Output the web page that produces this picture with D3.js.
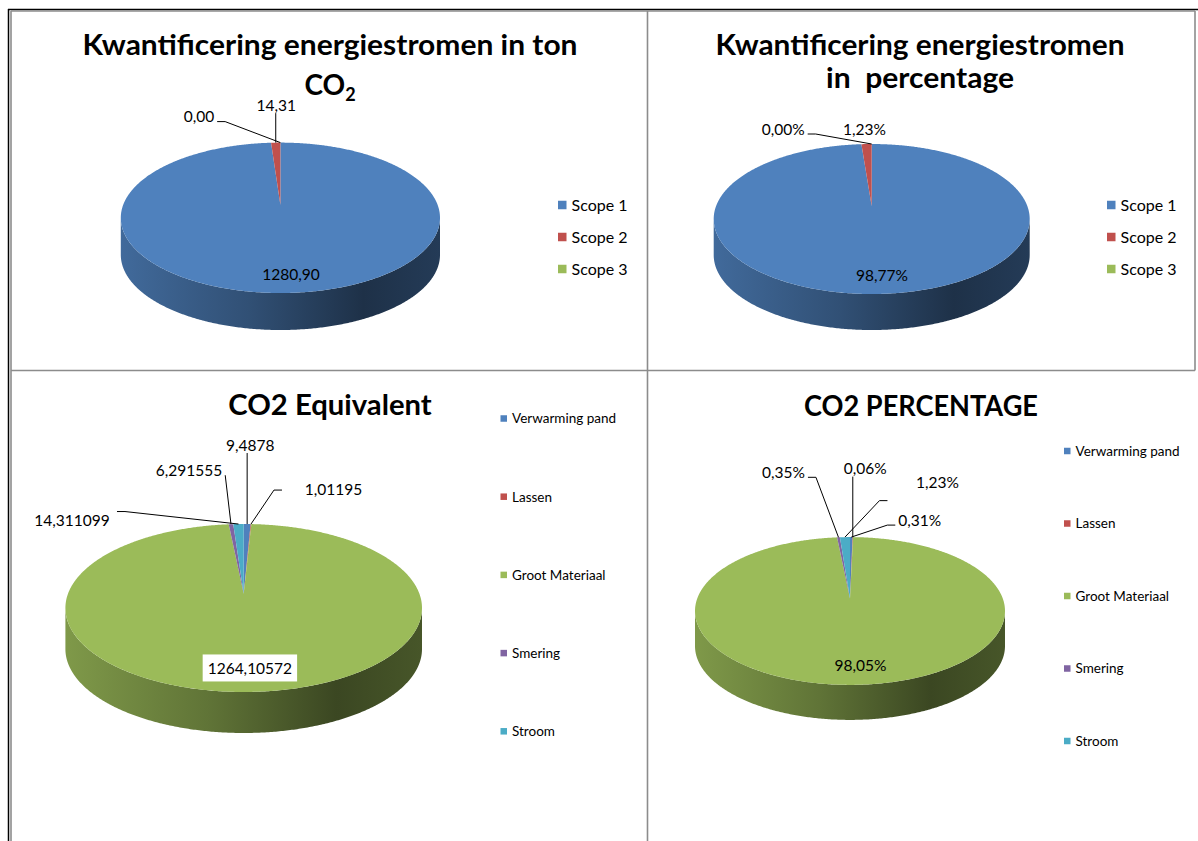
<!DOCTYPE html>
<html>
<head>
<meta charset="utf-8">
<script src="https://cdn.jsdelivr.net/npm/d3@7"></script>
<style>
  html, body { margin: 0; padding: 0; background: #fff; }
  svg { display: block; font-family: Lato, "Open Sans", sans-serif; }
  text { white-space: pre; }
</style>
</head>
<body>
<svg id="chart" width="1198" height="841"></svg>
<script>
// Data
const scopeNames = ["Scope 1", "Scope 2", "Scope 3"];
const scopeTon = [1280.90, 14.31, 0.00];
const scopePct = [98.77, 1.23, 0.00];
const scopeColors = ["#4F81BD", "#C0504D", "#9BBB59"];

const bronNames = ["Verwarming pand", "Lassen", "Groot Materiaal", "Smering", "Stroom"];
const bronCo2 = [9.4878, 1.01195, 1264.10572, 6.291555, 14.311099];
const bronPct = [0.31, 0.06, 98.05, 0.35, 1.23];
const bronColors = ["#4F81BD", "#C0504D", "#9BBB59", "#8064A2", "#4BACC6"];

const komma = s => s.replace(".", ",");
const fmt2 = v => komma(v.toFixed(2));
const fmtPct = v => komma(v.toFixed(2)) + "%";
const fmtRaw = v => komma(String(v));

// layout of the four charts
const charts = [
  {
    titles: [{text: "Kwantificering energiestromen in ton", x: 330, y: 55, w: 495},
             {text: "CO", sub: "2", x: 330, y: 95}],
    names: scopeNames, values: scopeTon, colors: scopeColors, fmt: fmt2,
    pie: {cx: 280.4, cy: 217.8, rx: 159.6, ry: 75.2, depth: 37},
    legend: {x: 558, y: 205, step: 32, box: 8.5, size: 16},
    labels: [{dx: 4, dy: -19, inside: true}, {dx: 0.5, dy: -37.5}, {dx: -81.5, dy: -26}]
  },
  {
    titles: [{text: "Kwantificering energiestromen", x: 920, y: 55, w: 409},
             {text: "in  percentage", x: 920, y: 88, w: 188}],
    names: scopeNames, values: scopePct, colors: scopeColors, fmt: fmtPct,
    pie: {cx: 871.7, cy: 219, rx: 158, ry: 75, depth: 36},
    legend: {x: 1107, y: 205, step: 32, box: 8.5, size: 16},
    labels: [{dx: 3, dy: -19, inside: true}, {dx: -2, dy: -15, noLine: true}, {dx: -88.5, dy: -15}]
  },
  {
    titles: [{text: "CO2 Equivalent", x: 330, y: 415, w: 203.5}],
    names: bronNames, values: bronCo2, colors: bronColors, fmt: fmtRaw,
    pie: {cx: 243.7, cy: 608, rx: 178.3, ry: 84, depth: 41},
    legend: {x: 500.5, y: 418.5, step: 78.2, box: 6.5, size: 13.5},
    labels: [{dx: 3, dy: -79}, {dx: 82.5, dy: -35, sx: -51.5, sy: 1},
             {dx: 1, dy: -24, inside: true, boxed: true},
             {dx: -42, dy: -54}, {dx: -166.5, dy: -3.5, sx: 45, sy: -9}]
  },
  {
    titles: [{text: "CO2 PERCENTAGE", x: 921, y: 415.5, w: 234}],
    names: bronNames, values: bronPct, colors: bronColors, fmt: fmtPct,
    pie: {cx: 850, cy: 611, rx: 155, ry: 73.9, depth: 35},
    legend: {x: 1064, y: 451, step: 72.5, box: 6.5, size: 13.5},
    labels: [{dx: 68.5, dy: -17}, {dx: 12.5, dy: -68.5}, {dx: 3.5, dy: -19, inside: true},
             {dx: -55, dy: -65}, {dx: 92.5, dy: -54.5, sx: -50, sy: 18}]
  }
];

const svg = d3.select("#chart");
const defs = svg.append("defs");

// sheet borders
svg.append("line").attr("x1", 8).attr("x2", 1198).attr("y1", 9.5).attr("y2", 9.5)
   .attr("stroke", "#000").attr("stroke-width", 1.5);
svg.append("line").attr("x1", 8.5).attr("x2", 8.5).attr("y1", 9).attr("y2", 841)
   .attr("stroke", "#000").attr("stroke-width", 1.5);
const grid = [[11, 11, 11, 841], [11, 11, 1195, 11], [647.5, 11, 647.5, 841],
              [11, 370.5, 1195, 370.5], [1195, 11, 1195, 370.5]];
grid.forEach(g => svg.append("line")
  .attr("x1", g[0]).attr("y1", g[1]).attr("x2", g[2]).attr("y2", g[3])
  .attr("stroke", "#8c8c8c").attr("stroke-width", 1.6));

const P = 0.17; // perspective of the 3D pie

charts.forEach((c, ci) => {
  const g = svg.append("g");
  const pc = c.pie;
  const R = pc.rx * Math.sqrt(1 - P * P);
  const S = pc.ry * (1 - P * P);
  const Y0 = pc.cy - P * pc.ry;
  const proj = (t, r = 1, dz = 0) => {
    const u = r * Math.sin(t), v = r * Math.cos(t), w = 1 + P * v;
    return [pc.cx + R * u / w, Y0 - S * v / w + dz];
  };
  const arcPts = (a0, a1, dz = 0) => {
    const n = Math.max(2, Math.ceil((a1 - a0) / (Math.PI / 360)));
    return d3.range(n + 1).map(i => proj(a0 + (a1 - a0) * i / n, 1, dz));
  };
  const color = d3.scaleOrdinal().domain(c.names).range(c.colors);
  const arcs = d3.pie().sort(null).value(d => d.v)
    .startAngle(0).endAngle(2 * Math.PI)(c.values.map((v, i) => ({v, name: c.names[i]})));
  const line = d3.line();

  // side of the cylinder, only the front part shows
  const front0 = Math.acos(-P), front1 = 2 * Math.PI - Math.acos(-P);
  arcs.forEach((a, i) => {
    const a0 = Math.max(a.startAngle, front0), a1 = Math.min(a.endAngle, front1);
    if (a1 <= a0) return;
    const base = d3.rgb(color(a.data.name));
    const id = "side" + ci + "_" + i;
    const grad = defs.append("linearGradient").attr("id", id)
      .attr("gradientUnits", "userSpaceOnUse")
      .attr("x1", pc.cx - pc.rx).attr("x2", pc.cx + pc.rx).attr("y1", 0).attr("y2", 0);
    [[0, 0.82], [0.4, 0.62], [0.76, 0.38], [1, 0.46]].forEach(s => {
      grad.append("stop").attr("offset", s[0])
        .attr("stop-color", d3.rgb(base.r * s[1], base.g * s[1], base.b * s[1]));
    });
    const pts = arcPts(a0, a1).concat(arcPts(a0, a1, pc.depth).reverse());
    g.append("path").attr("d", line(pts) + "Z").attr("fill", `url(#${id})`);
  });

  // top faces
  arcs.forEach(a => {
    if (a.endAngle - a.startAngle <= 0) return;
    const pts = [proj(0, 0)].concat(arcPts(a.startAngle, a.endAngle));
    g.append("path").attr("d", line(pts) + "Z").attr("fill", color(a.data.name));
  });

  // data labels with leader lines
  arcs.forEach((a, i) => {
    const L = c.labels[i];
    const mid = (a.startAngle + a.endAngle) / 2;
    const anc = proj(mid, 1);
    const lx = anc[0] + L.dx, ly = anc[1] + L.dy;
    const t = g.append("text").attr("x", lx).attr("y", ly).attr("dy", "0.36em")
      .attr("text-anchor", "middle").attr("font-size", 15.5).attr("fill", "#000")
      .text(c.fmt(a.data.v));
    const bb = t.node().getBBox();
    if (L.boxed) {
      g.insert("rect", "text").attr("x", bb.x - 5).attr("y", ly - 13.5)
        .attr("width", bb.width + 10).attr("height", 27).attr("fill", "#fff");
    }
    if (L.inside || L.noLine) return;
    let pts;
    if (L.sx !== undefined) {
      const s = [lx + L.sx, ly + L.sy];
      const e = [s[0] + (anc[0] > s[0] ? 8 : -8), s[1]];
      pts = [s, e, anc];
    } else if (anc[0] >= bb.x && anc[0] <= bb.x + bb.width) {
      pts = [[anc[0], ly + 8], anc];
    } else if (anc[0] > bb.x + bb.width) {
      const s = [bb.x + bb.width + 3, ly + 5];
      pts = anc[0] - s[0] > 25 ? [s, [s[0] + 8, s[1]], anc] : [s, anc];
    } else {
      const s = [bb.x - 3, ly + 5];
      pts = s[0] - anc[0] > 25 ? [s, [s[0] - 8, s[1]], anc] : [s, anc];
    }
    g.append("path").attr("d", line(pts)).attr("fill", "none")
      .attr("stroke", "#000").attr("stroke-width", 1);
  });

  // legend
  const lg = g.append("g");
  c.names.forEach((n, i) => {
    const y = c.legend.y + i * c.legend.step;
    lg.append("rect").attr("x", c.legend.x).attr("y", y - c.legend.box / 2)
      .attr("width", c.legend.box).attr("height", c.legend.box).attr("fill", color(n));
    lg.append("text").attr("x", c.legend.x + c.legend.box + 5).attr("y", y).attr("dy", "0.36em")
      .attr("font-size", c.legend.size).attr("fill", "#000").text(n);
  });

  // titles
  c.titles.forEach(tt => {
    const t = g.append("text").attr("x", tt.x).attr("y", tt.y).attr("text-anchor", "middle")
      .attr("font-size", 28).attr("font-weight", "bold").attr("fill", "#000");
    if (tt.w) t.attr("textLength", tt.w).attr("lengthAdjust", "spacingAndGlyphs");
    t.append("tspan").text(tt.text);
    if (tt.sub) t.append("tspan").attr("font-size", 18).attr("dy", 6).text(tt.sub);
  });
});
</script>
</body>
</html>
